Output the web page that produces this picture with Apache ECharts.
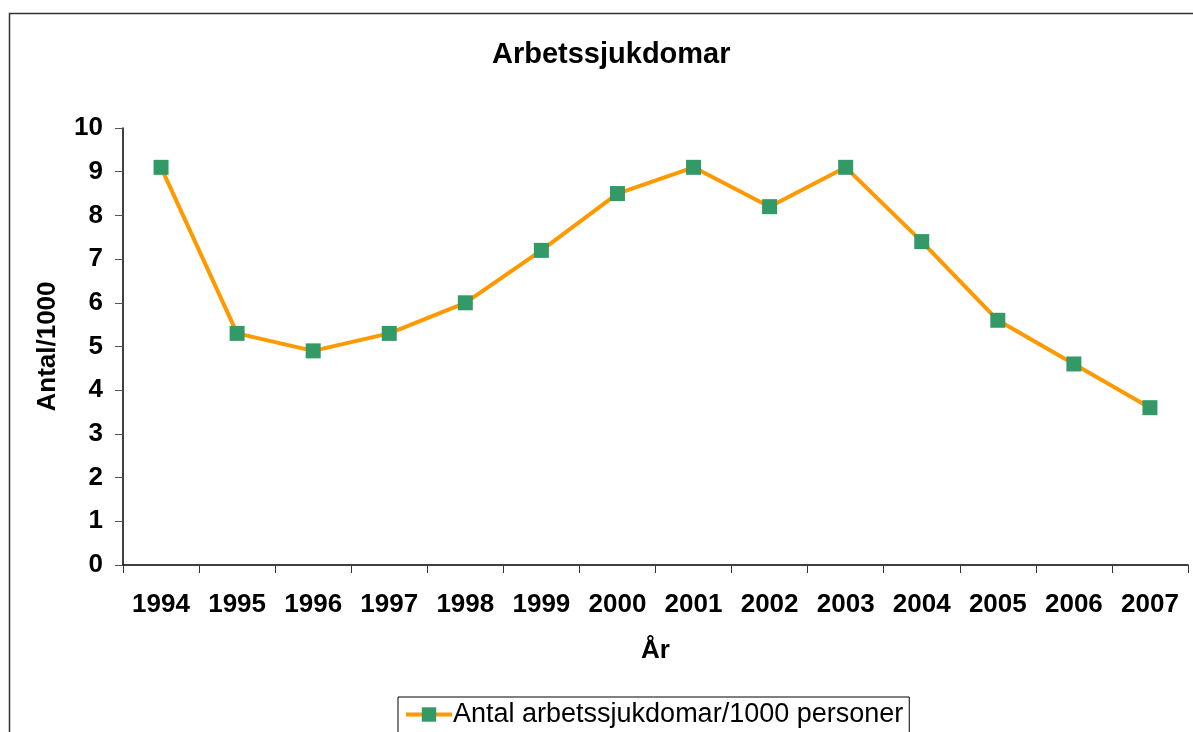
<!DOCTYPE html>
<html>
<head>
<meta charset="utf-8">
<script src="https://cdn.jsdelivr.net/npm/echarts@6/dist/echarts.min.js"></script>
<style>
html, body { margin: 0; padding: 0; background: #fff; }
#chart { width: 1193px; height: 732px; }
</style>
</head>
<body>
<div id="chart"></div>
<script>
// data
var years = ['1994', '1995', '1996', '1997', '1998', '1999', '2000', '2001', '2002', '2003', '2004', '2005', '2006', '2007']
var values = [9.1, 5.3, 4.9, 5.3, 6.0, 7.2, 8.5, 9.1, 8.2, 9.1, 7.4, 5.6, 4.6, 3.6]
var seriesName = 'Antal arbetssjukdomar/1000 personer'

var font = '"Liberation Sans", Arial, sans-serif'
var chart = echarts.init(document.getElementById('chart'))
chart.setOption({
  backgroundColor: '#FFFFFF',
  animation: false,
  textStyle: { fontFamily: font },
  graphic: [{
    type: 'rect',
    left: 7,
    top: 11,
    shape: { width: 1200, height: 740 },
    style: { fill: 'none', stroke: '#333', lineWidth: 1.5 },
    silent: true
  }],
  title: {
    text: 'Arbetssjukdomar',
    left: 487,
    top: 35,
    textStyle: { fontFamily: font, fontWeight: 'bold', fontSize: 29, color: '#000' }
  },
  legend: {
    data: [seriesName],
    left: 398,
    top: 697,
    padding: [4, 6, 10, 6],
    borderColor: '#000',
    borderWidth: 1,
    borderRadius: 0,
    itemWidth: 46,
    itemHeight: 18,
    itemGap: 4,
    lineStyle: { width: 4 },
    textStyle: { fontFamily: font, fontSize: 27, color: '#000', padding: [0, 0, 0, -4] }
  },
  grid: {
    left: 123,
    right: 5,
    top: 128,
    bottom: 167,
    containLabel: false
  },
  xAxis: {
    type: 'category',
    data: years,
    name: 'År',
    nameLocation: 'middle',
    nameGap: 73,
    nameTextStyle: { fontFamily: font, fontWeight: 'bold', fontSize: 26, color: '#000' },
    boundaryGap: true,
    axisLine: { lineStyle: { color: '#000', width: 1.5 } },
    axisTick: { show: true, length: 8, inside: false, lineStyle: { color: '#333' } },
    axisLabel: { margin: 27, fontFamily: font, fontWeight: 'bold', fontSize: 26, color: '#000' }
  },
  yAxis: {
    type: 'value',
    min: 0,
    max: 10,
    interval: 1,
    name: 'Antal/1000',
    nameLocation: 'middle',
    nameGap: 62,
    nameTextStyle: { fontFamily: font, fontWeight: 'bold', fontSize: 26, color: '#000' },
    axisLine: { show: true, lineStyle: { color: '#000', width: 1.5 } },
    axisTick: { show: true, length: 8, lineStyle: { color: '#555' } },
    axisLabel: { margin: 20, fontFamily: font, fontWeight: 'bold', fontSize: 26, color: '#000' },
    splitLine: { show: false }
  },
  series: [{
    name: seriesName,
    type: 'line',
    data: values,
    symbol: 'rect',
    symbolSize: 15,
    showAllSymbol: true,
    lineStyle: { color: '#FF9900', width: 4 },
    itemStyle: { color: '#339966', borderColor: '#339966', borderWidth: 0 },
    z: 3
  }]
})
</script>
</body>
</html>
